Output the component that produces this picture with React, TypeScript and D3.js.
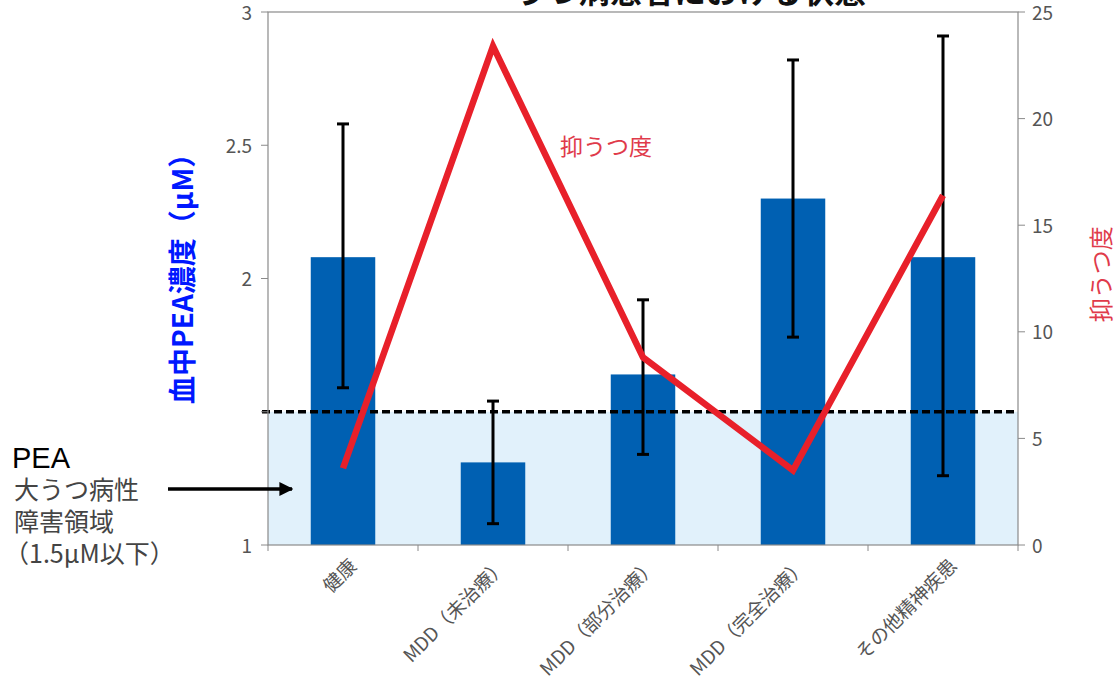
import React from "react";
import * as d3 from "d3";

// categories and values
const categories = ["健康", "MDD（未治療）", "MDD（部分治療）", "MDD（完全治療）", "その他精神疾患"];
const peaMean = [2.08, 1.31, 1.64, 2.3, 2.08];
const peaUpper = [2.58, 1.54, 1.92, 2.82, 2.91];
const peaLower = [1.59, 1.08, 1.34, 1.78, 1.26];
const depression = [3.6, 23.4, 8.8, 3.5, 16.4];
const leftTicks = [1, 1.5, 2, 2.5, 3];
const leftTickLabels = ["1", "", "2", "2.5", "3"];
const rightTicks = [0, 5, 10, 15, 20, 25];
const threshold = 1.5;
const noteLines = ["大うつ病性", "障害領域", "（1.5μM以下）"];

const W = 1118;
const H = 684;
const margin = { left: 268, right: 100, top: 12, bottom: 139 };
const FONT = "'Noto Sans CJK JP', 'DejaVu Sans', sans-serif";

const App = () => {
  const x0 = margin.left;
  const x1 = W - margin.right;
  const y0 = H - margin.bottom;
  const y1 = margin.top;

  const x = d3.scaleBand<string>().domain(categories).range([x0, x1]);
  const yL = d3.scaleLinear().domain([1, 3]).range([y0, y1]);
  const yR = d3.scaleLinear().domain([0, 25]).range([y0, y1]);
  const barW = x.bandwidth() * 0.43;
  const cx = (c: string) => (x(c) as number) + x.bandwidth() / 2;

  const line = d3
    .line<number>()
    .x((_, i) => cx(categories[i]))
    .y((d) => yR(d));

  const tickColor = "#8a8a8a";
  const labelColor = "#555";

  return (
    <svg width={W} height={H} style={{ position: "absolute", left: 0, top: 0, background: "#fff" }}>
      <defs>
        <marker id="arr" viewBox="0 0 10 10" refX="9" refY="5" markerWidth="4" markerHeight="4" orient="auto">
          <path d="M0,0 L10,5 L0,10 z" fill="#000" />
        </marker>
      </defs>

      {/* title, cut off at the top */}
      <text x={690} y={3} textAnchor="middle" fontFamily={FONT} fontSize={32} fontWeight="bold" fill="#111">
        うつ病患者における状態
      </text>

      {/* shaded region below threshold */}
      <rect x={x0} y={yL(threshold)} width={x1 - x0} height={y0 - yL(threshold)} fill="#e1f1fb" />

      {/* bars */}
      {categories.map((c, i) => (
        <rect key={c} x={cx(c) - barW / 2} y={yL(peaMean[i])} width={barW} height={y0 - yL(peaMean[i])} fill="#0060b2" />
      ))}

      {/* threshold line */}
      <line x1={x0 - 6} x2={x1 - 2} y1={yL(threshold)} y2={yL(threshold)} stroke="#000" strokeWidth={3.5} strokeDasharray="8,4" />

      {/* error bars */}
      {categories.map((c, i) => (
        <g key={c} stroke="#000" strokeWidth={3}>
          <line x1={cx(c)} x2={cx(c)} y1={yL(peaUpper[i])} y2={yL(peaLower[i])} />
          <line x1={cx(c) - 6} x2={cx(c) + 6} y1={yL(peaUpper[i])} y2={yL(peaUpper[i])} />
          <line x1={cx(c) - 6} x2={cx(c) + 6} y1={yL(peaLower[i])} y2={yL(peaLower[i])} />
        </g>
      ))}

      {/* depression line */}
      <path d={line(depression) || ""} fill="none" stroke="#e8202a" strokeWidth={6.5} strokeLinejoin="miter" />
      <text x={560} y={155} fontFamily={FONT} fontSize={23} fill="#e03a4a">
        抑うつ度
      </text>

      {/* frame */}
      <rect x={x0} y={y1} width={x1 - x0} height={y0 - y1} fill="none" stroke={tickColor} strokeWidth={1.2} />

      {/* left axis */}
      {leftTicks.map((t, i) => (
        <g key={t}>
          <line x1={x0 - 7} x2={x0} y1={yL(t)} y2={yL(t)} stroke={tickColor} />
          <text x={x0 - 16} y={yL(t) + 1} dy="0.35em" textAnchor="end" fontFamily={FONT} fontSize={19} fill={labelColor}>
            {leftTickLabels[i]}
          </text>
        </g>
      ))}

      {/* right axis */}
      {rightTicks.map((t) => (
        <g key={t}>
          <line x1={x1} x2={x1 + 7} y1={yR(t)} y2={yR(t)} stroke={tickColor} />
          <text x={x1 + 14} y={yR(t) + 1} dy="0.35em" textAnchor="start" fontFamily={FONT} fontSize={19} fill={labelColor}>
            {t}
          </text>
        </g>
      ))}

      {/* x ticks at band boundaries */}
      {categories.slice(1).map((c) => (
        <line key={c} x1={x(c) as number} x2={x(c) as number} y1={y0} y2={y0 + 6} stroke={tickColor} />
      ))}
      <line x1={x0} x2={x0} y1={y0} y2={y0 + 6} stroke={tickColor} />
      <line x1={x1} x2={x1} y1={y0} y2={y0 + 6} stroke={tickColor} />

      {/* category labels */}
      {categories.map((c) => (
        <text
          key={c}
          transform={`translate(${cx(c) + 15},${y0 + 22}) rotate(-45)`}
          textAnchor="end"
          fontFamily={FONT}
          fontSize={19}
          fill={labelColor}
        >
          {c}
        </text>
      ))}

      {/* axis titles */}
      <text
        transform={`translate(193,${(yL(1.5) + yL(2.55)) / 2}) rotate(-90)`}
        textAnchor="middle"
        fontFamily={FONT}
        fontSize={28}
        fontWeight="bold"
        fill="#0018ff"
      >
        血中PEA濃度（μM）
      </text>
      <text
        transform={`translate(1110,${yR(12.7)}) rotate(-90)`}
        textAnchor="middle"
        fontFamily={FONT}
        fontSize={24}
        fill="#e03a4a"
      >
        抑うつ度
      </text>

      {/* annotation on the left */}
      <text x={12} y={468} fontFamily="'Liberation Sans', Arial, sans-serif" fontSize={29} fill="#000">
        PEA
      </text>
      {noteLines.map((s, i) => (
        <text key={s} x={i === 2 ? 4 : 14} y={499 + i * 32} fontFamily={FONT} fontSize={25} fill="#444">
          {s}
        </text>
      ))}
      <line x1={168} x2={292} y1={489} y2={489} stroke="#000" strokeWidth={3.5} markerEnd="url(#arr)" />
    </svg>
  );
};

export default App;
